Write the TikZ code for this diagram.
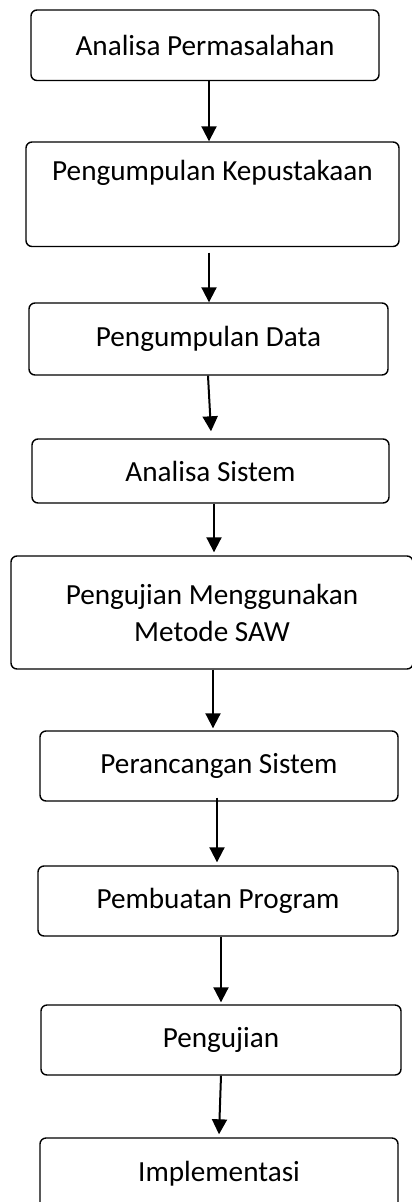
\documentclass[tikz,border=0pt]{standalone}
\usepackage{fontspec}
\setmainfont{Carlito}
\usetikzlibrary{arrows.meta}
\begin{document}
\begin{tikzpicture}[x=1pt,y=-1pt,
  box/.style={draw=black,line width=1.4pt,rounded corners=6pt,inner sep=0pt,
    align=center,font=\fontsize{29.2}{37}\selectfont},
  arr/.style={line width=2pt,-{Triangle[width=15pt,length=15pt]}}]
\useasboundingbox (0,0) rectangle (412,1202);
\clip (0,0) rectangle (412,1202);
\fill[white] (0,0) rectangle (412,1202);
\node[box,minimum width=348pt,minimum height=70.5pt] (b1) at (205,45.25) {Analisa Permasalahan};
\node[box,minimum width=373pt,minimum height=104.5pt] (b2) at (212.5,194.25) {Pengumpulan Kepustakaan\\\strut};
\node[box,minimum width=359pt,minimum height=72pt] (b3) at (208.5,339) {\raisebox{2pt}{Pengumpulan Data}};
\node[box,minimum width=357pt,minimum height=64pt] (b4) at (210.5,471) {Analisa Sistem};
\node[box,minimum width=402pt,minimum height=113pt] (b5) at (212,612.5) {Pengujian Menggunakan\\Metode SAW};
\node[box,minimum width=358pt,minimum height=70pt] (b6) at (219,766) {Perancangan Sistem};
\node[box,minimum width=360pt,minimum height=70pt] (b7) at (218,901) {\raisebox{3pt}{Pembuatan Program}};
\node[box,minimum width=360pt,minimum height=70pt] (b8) at (221,1040) {\raisebox{2pt}{Pengujian}};
\node[box,minimum width=358pt,minimum height=72pt] (b9) at (219,1174) {\raisebox{4pt}{Implementasi}};
\draw[arr] ([xshift=4pt]b1.south) -- ([xshift=-3.5pt]b2.north);
\draw[arr] ([xshift=-3.5pt,yshift=-5.5pt]b2.south) -- ([xshift=0.5pt]b3.north);
\draw[arr] ([xshift=-0.5pt]b3.south) -- ([xshift=0.5pt,yshift=7pt]b4.north);
\draw[arr] ([xshift=3.5pt]b4.south) -- ([xshift=2pt,yshift=3pt]b5.north);
\draw[arr] ([xshift=1pt]b5.south) -- ([xshift=-6pt,yshift=2pt]b6.north);
\draw[arr] ([xshift=-2pt,yshift=4pt]b6.south) -- ([xshift=-1pt,yshift=3pt]b7.north);
\draw[arr] ([xshift=3pt]b7.south) -- ([yshift=2pt]b8.north);
\draw[arr] (b8.south) -- ([xshift=0pt,yshift=3pt]b9.north);
\end{tikzpicture}
\end{document}
